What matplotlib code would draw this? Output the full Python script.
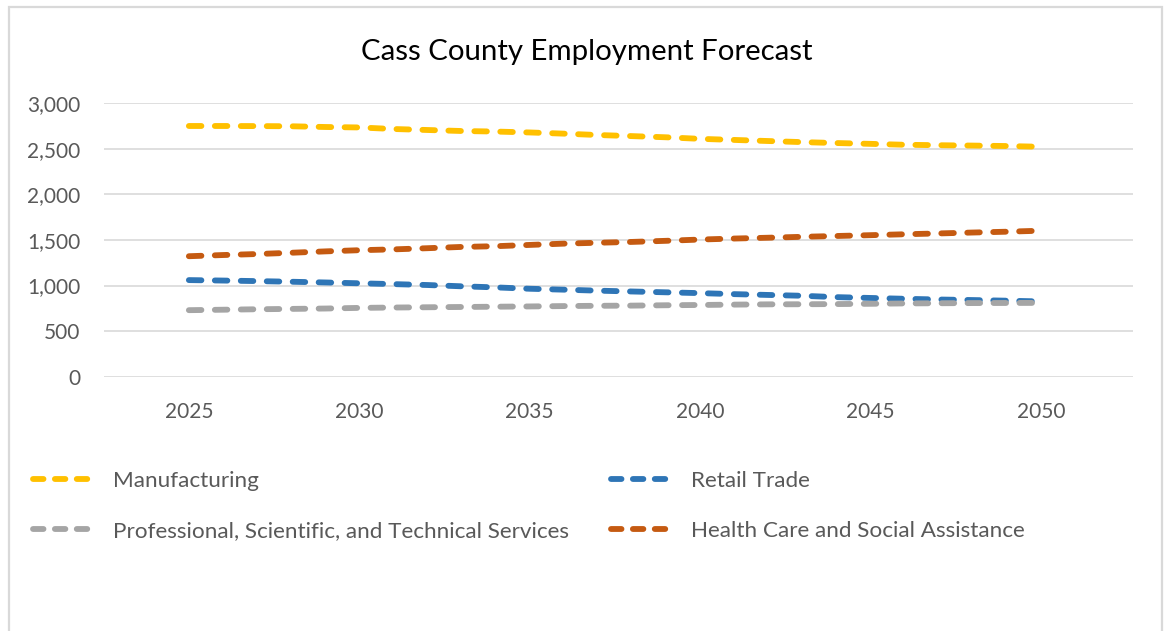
import matplotlib
matplotlib.use("Agg")
import matplotlib.pyplot as plt
from matplotlib.lines import Line2D
from matplotlib.patches import Rectangle
from matplotlib.ticker import FuncFormatter

# Forecast years and employment per sector
years = list(range(2025, 2051))
manufacturing = [2751, 2751, 2750, 2748, 2740, 2735, 2718, 2707, 2696, 2690,
                 2680, 2667, 2652, 2640, 2627, 2610, 2598, 2586, 2574, 2564,
                 2555, 2545, 2540, 2536, 2531, 2523]
retail_trade = [1060, 1055, 1049, 1042, 1034, 1025, 1016, 1006, 992, 980,
                965, 955, 944, 935, 926, 917, 906, 897, 888, 873,
                864, 855, 847, 841, 834, 826]
professional = [730, 735, 740, 744, 748, 755, 759, 762, 765, 768,
                771, 775, 778, 780, 784, 787, 791, 794, 795, 797,
                800, 804, 806, 808, 809, 810]
health_care = [1322, 1335, 1346, 1360, 1375, 1388, 1397, 1410, 1424, 1432,
               1446, 1460, 1470, 1479, 1491, 1505, 1516, 1525, 1535, 1544,
               1553, 1563, 1572, 1582, 1591, 1602]

series_names = ["Manufacturing", "Retail Trade",
                "Professional, Scientific, and Technical Services",
                "Health Care and Social Assistance"]
series_values = [manufacturing, retail_trade, professional, health_care]
colors = ["#FFC000", "#2E75B6", "#A5A5A5", "#C55A11"]

year_ticks = [2025, 2030, 2035, 2040, 2045, 2050]
value_ticks = [0, 500, 1000, 1500, 2000, 2500, 3000]

FONT = "Lato"
TEXT_GRAY = "#595959"
GRID_GRAY = "#D9D9D9"

W, H = 1169, 631
fig = plt.figure(figsize=(W / 100, H / 100), dpi=100)
fig.patch.set_facecolor("white")

# chart border
fig.patches.append(Rectangle((9 / W, -0.05), (1162 - 9) / W, 1.05 - 7 / H,
                             transform=fig.transFigure, fill=False,
                             edgecolor=GRID_GRAY, linewidth=1.6))

left, right = 104 / W, 1133 / W
bottom, top = 1 - 376.7 / H, 1 - 103.3 / H
ax = fig.add_axes([left, bottom, right - left, top - bottom])

lw = 4.2
for name, vals, c in zip(series_names, series_values, colors):
    ln, = ax.plot(years, vals, color=c, linewidth=lw, label=name)
    ln.set_dashes((2.15, 2.3))
    ln.set_dash_capstyle("round")

ax.set_xlim(2022.51, 2052.70)
ax.set_ylim(0, 3000)
ax.set_xticks(year_ticks)
ax.set_yticks(value_ticks)
ax.yaxis.set_major_formatter(FuncFormatter(lambda v, p: f"{int(v):,}"))
ax.grid(axis="y", color=GRID_GRAY, linewidth=1.2)
ax.set_axisbelow(True)
for s in ax.spines.values():
    s.set_visible(False)
ax.tick_params(length=0, labelcolor=TEXT_GRAY, labelsize=15)
ax.tick_params(axis="y", pad=17)
ax.tick_params(axis="x", pad=18)
for lab in ax.get_xticklabels() + ax.get_yticklabels():
    lab.set_fontfamily(FONT)

fig.text(0.5015, 1 - 52 / H, "Cass County Employment Forecast",
         ha="center", va="center", fontsize=21.2, color="black",
         fontfamily=FONT)

# legend: two columns, filled column-wise
order = [0, 2, 1, 3]
handles = []
for i in order:
    h = Line2D([0], [0], color=colors[i], linewidth=lw)
    h.set_dashes((1.8, 1.95))
    h.set_dash_capstyle("round")
    handles.append(h)
labels = [series_names[i] for i in order]
leg = fig.legend(handles, labels, ncol=2, loc="upper left",
                 bbox_to_anchor=(33 / W, 1 - 471 / H), frameon=False,
                 prop={"family": FONT, "size": 16.2}, labelcolor=TEXT_GRAY,
                 handlelength=2.45, handletextpad=1.09, columnspacing=1.88,
                 labelspacing=1.34, borderaxespad=0, borderpad=0)

fig.savefig("out.png", dpi=100)
